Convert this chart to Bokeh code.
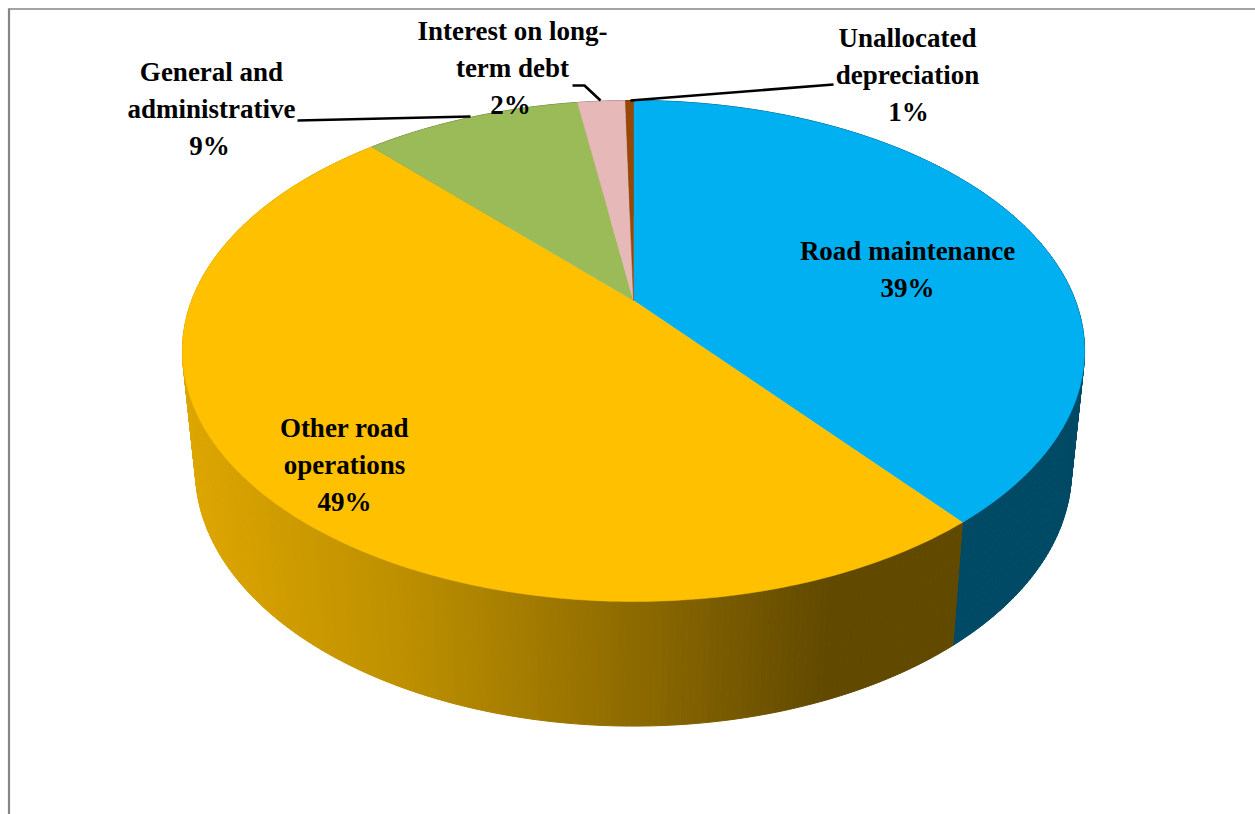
import numpy as np
from bokeh.plotting import figure
from bokeh.models import Range1d
from bokeh.core.properties import value
from bokeh.embed import file_html
from bokeh.resources import INLINE

# data
categories = ["Road maintenance", "Other road operations", "General and administrative",
              "Interest on long-term debt", "Unallocated depreciation"]
shares = [39.2, 48.9, 9.47, 2.08, 0.35]
percent_labels = ["39%", "49%", "9%", "2%", "1%"]
top_colors = ["#00B0F0", "#FFC000", "#9BBB59", "#E6B8B7", "#974806"]
side_colors = ["#004A65", "#FFC000", "#5E7036", "#8A6E6E", "#5A2B04"]
label_lines = [["Road maintenance"], ["Other road", "operations"], ["General and", "administrative"],
               ["Interest on long-", "term debt"], ["Unallocated", "depreciation"]]

# geometry of the tilted pie, in page pixels
CX, CY = 633.0, 300.0
BX, AY, K = 441.8, 240.3, 0.2016
SIDE_SX, SIDE_SY, SIDE_DY = 0.971, 1.02, 112.6


def project(theta):
    u, v = np.sin(theta), -np.cos(theta)
    w = 1 - K * v
    return CX + BX * u / w, CY + AY * v / w


def to_bottom(x, y):
    return CX + SIDE_SX * (x - CX), y * SIDE_SY + SIDE_DY


def gradient(x):
    stops_x = [190, 400, 633, 830, 1000]
    stops_r = [221, 190, 142, 97, 97]
    stops_g = [166, 144, 107, 73, 73]
    r, g = np.interp(x, stops_x, stops_r), np.interp(x, stops_x, stops_g)
    return "#%02x%02x00" % (int(r), int(g))


p = figure(width=1255, height=814, x_range=Range1d(0, 1255), y_range=Range1d(814, 0),
           output_backend="svg", toolbar_location=None, min_border=0)
p.axis.visible = False
p.grid.visible = False
p.outline_line_color = None
p.background_fill_color = "white"

# chart frame: left and top edges only
p.line([8.5, 8.5], [814, 8], line_color="#868686", line_width=2.2)
p.line([8, 1255], [8.5, 8.5], line_color="#868686", line_width=1.6)

edges = 2 * np.pi * np.concatenate([[0], np.cumsum(shares)]) / sum(shares)

# side wall, back to front
qx, qy, qc = [], [], []
for i in range(len(shares)):
    n = max(2, int((edges[i + 1] - edges[i]) / (2 * np.pi) * 500))
    th = np.linspace(edges[i], edges[i + 1], n + 1)
    x, y = project(th)
    bx, by = to_bottom(x, y)
    for j in range(n):
        qx.append([x[j], x[j + 1], bx[j + 1], bx[j]])
        qy.append([y[j], y[j + 1], by[j + 1], by[j]])
        xm = (x[j] + x[j + 1]) / 2
        qc.append(gradient(xm) if i == 1 else side_colors[i])
order = np.argsort([np.mean(q) for q in qy])
p.patches([qx[k] for k in order], [qy[k] for k in order],
          fill_color=[qc[k] for k in order], line_color=[qc[k] for k in order], line_width=1)

# top face
for i in range(len(shares)):
    th = np.linspace(edges[i], edges[i + 1], 240)
    x, y = project(th)
    p.patch(np.r_[CX, x], np.r_[CY, y], fill_color=top_colors[i], line_color=top_colors[i], line_width=0.5)

# leader lines
leader_xs = [[297, 470], [572, 584, 600], [630, 833]]
leader_ys = [[120, 116], [85, 85, 100], [100, 84]]
p.multi_line(leader_xs, leader_ys, line_color="black", line_width=2.6)

# labels
label_centers = [(907, 250), (344, 427), (211, 71), (512, 30), (907, 37)]
percent_nudge = [0, 0, -2, -2, 1]
LINE_H = 37
for i, lines in enumerate(label_lines):
    cx, cy = label_centers[i]
    rows = lines + [percent_labels[i]]
    xs = [cx] * len(lines) + [cx + percent_nudge[i]]
    p.text(xs, [cy + LINE_H * k for k in range(len(rows))], text=rows,
           text_font=value("Liberation Serif"), text_font_style="bold", text_font_size="27px",
           text_color="black", text_align="center", text_baseline="middle")

open("out.html", "w").write(file_html(p, INLINE))
